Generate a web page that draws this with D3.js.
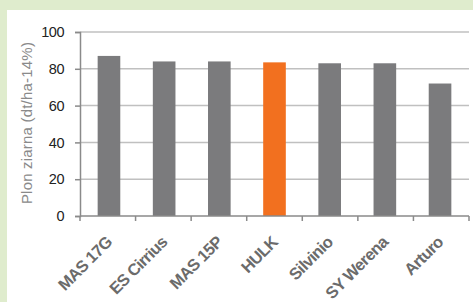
<!DOCTYPE html>
<html>
<head>
<meta charset="utf-8">
<script src="https://cdn.jsdelivr.net/npm/d3@7"></script>
<style>
  body { margin: 0; background: #fff; }
  svg { display: block; }
</style>
</head>
<body>
<div class="chart"></div>
<script>
// data
var varieties = ["MAS 17G", "ES Cirrius", "MAS 15P", "HULK", "Silvinio", "SY Werena", "Arturo"];
var yields = [87, 84, 84, 83.5, 83, 83, 72];
var yTicks = [0, 20, 40, 60, 80, 100];
var highlight = "HULK";

var W = 473, H = 302;
var margin = {top: 32, right: 4, bottom: 86, left: 80}
  , width = W - margin.left - margin.right
  , height = H - margin.top - margin.bottom;

var root = d3.select(".chart").append("svg")
    .attr("width", W)
    .attr("height", H);

// green frame on top and left
root.append("rect").attr("width", W).attr("height", H).attr("fill", "#dfeccd");
root.append("rect").attr("x", 7).attr("y", 10).attr("width", W - 7).attr("height", H - 10).attr("fill", "#fff");

var svg = root.append("g")
    .attr("transform", "translate(" + margin.left + "," + margin.top + ")");

var xScale = d3.scaleBand()
    .domain(varieties)
    .range([0, width])
    .paddingInner(0.59)
    .paddingOuter(0.32);

var yScale = d3.scaleLinear()
    .domain([0, 100])
    .range([height, 0]);

// gridlines
svg.selectAll(".grid")
    .data(yTicks.filter(d => d > 0))
  .enter().append("line")
    .attr("x1", 0)
    .attr("x2", width)
    .attr("y1", d => yScale(d))
    .attr("y2", d => yScale(d))
    .style("stroke", "#c0c0c0")
    .style("stroke-width", 1.5);

// bars
svg.selectAll(".bar")
    .data(varieties)
  .enter().append("rect")
    .attr("x", d => xScale(d))
    .attr("width", xScale.bandwidth())
    .attr("y", (d, i) => yScale(yields[i]))
    .attr("height", (d, i) => height - yScale(yields[i]))
    .attr("fill", d => d === highlight ? "#f2701f" : "#7b7b7d");

// y axis
var yAxis = svg.append("g")
    .call(d3.axisLeft(yScale).tickValues(yTicks).tickSize(5).tickPadding(11));
yAxis.select(".domain").style("stroke", "#8a8a8a").style("stroke-width", 1.5);
yAxis.selectAll(".tick line").style("stroke", "#8a8a8a").style("stroke-width", 1.5);
yAxis.selectAll("text")
    .style("font-family", "Liberation Sans, Arial, sans-serif")
    .style("font-size", "14.5px")
    .style("letter-spacing", "-0.5px")
    .style("fill", "#222");

// x axis: line plus ticks at band boundaries
var boundaries = d3.range(varieties.length + 1).map(i => i * width / varieties.length);
svg.append("line")
    .attr("x1", 0).attr("x2", width)
    .attr("y1", height).attr("y2", height)
    .style("stroke", "#8a8a8a").style("stroke-width", 1.5);
svg.selectAll(".xtick")
    .data(boundaries)
  .enter().append("line")
    .attr("x1", d => d).attr("x2", d => d)
    .attr("y1", height).attr("y2", height + 5)
    .style("stroke", "#8a8a8a").style("stroke-width", 1.5);

svg.selectAll(".xlabel")
    .data(varieties)
  .enter().append("text")
    .attr("transform", d => "translate(" + (xScale(d) + xScale.bandwidth() / 2 - 4) + "," + (height + 19) + ") rotate(-45)")
    .attr("text-anchor", "end")
    .attr("dy", "0.7em")
    .style("font-family", "Liberation Sans, Arial, sans-serif")
    .style("font-size", "16.5px")
    .style("font-weight", "bold")
    .style("letter-spacing", "-0.6px")
    .style("fill", "#6b6b6b")
    .text(d => d);

// y axis title
svg.append("text")
    .attr("transform", "rotate(-90)")
    .attr("x", 0 - height / 2 + 1)
    .attr("y", 0 - 48)
    .style("text-anchor", "middle")
    .style("font-family", "Liberation Sans, Arial, sans-serif")
    .style("font-size", "15px")
    .style("letter-spacing", "0.2px")
    .style("fill", "#8a8a8a")
    .text("Plon ziarna (dt/ha-14%)");
</script>
</body>
</html>
